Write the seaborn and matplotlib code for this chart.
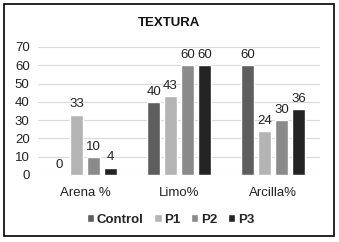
import matplotlib
matplotlib.use("Agg")
import matplotlib.pyplot as plt
import seaborn as sns
import pandas as pd
from matplotlib.patches import Rectangle

categories = ["Arena %", "Limo%", "Arcilla%"]
series = ["Control", "P1", "P2", "P3"]
control = [0, 40, 60]
p1 = [33, 43, 24]
p2 = [10, 60, 30]
p3 = [4, 60, 36]
yticks = [0, 10, 20, 30, 40, 50, 60, 70]

rows = []
for name, vals in zip(series, [control, p1, p2, p3]):
    for c, v in zip(categories, vals):
        rows.append({"cat": c, "serie": name, "val": v})
df = pd.DataFrame(rows)

sns.set_style("white")
plt.rcParams["font.family"] = ["Liberation Sans", "DejaVu Sans"]

colors = ["#5e5e5e", "#b4b4b4", "#8a8a8a", "#232323"]

fig = plt.figure(figsize=(3.39, 2.42), dpi=100)
ax = fig.add_axes([0.112, 0.277, 0.832, 0.529])
sns.barplot(data=df, x="cat", y="val", hue="serie", palette=colors,
            width=0.72, gap=0.23, ax=ax, legend=True)

for cont in ax.containers:
    ax.bar_label(cont, fmt="%d", padding=3, fontsize=9.5, color="#222222")

ax.set_ylim(0, 70)
ax.set_yticks(yticks)
ax.set_xlim(-0.5, 2.5)
ax.yaxis.grid(True, color="#d9d9d9", linewidth=0.8)
ax.set_axisbelow(True)
for s in ax.spines.values():
    s.set_visible(False)
ax.tick_params(axis="both", length=0, labelsize=9.5, colors="#222222", pad=6)
ax.tick_params(axis="x", pad=9)
ax.set_xlabel("")
ax.set_ylabel("")

leg = ax.legend(loc="center", bbox_to_anchor=(0.47, -0.35), ncol=4,
                frameon=False, handlelength=0.55, handleheight=0.55,
                handletextpad=0.2, columnspacing=0.8,
                prop={"weight": "bold", "size": 9.5})

fig.text(0.5, 0.905, "TEXTURA", ha="center", va="center",
         fontsize=9.5, fontweight="bold", color="#111111")

fig.patches.append(Rectangle((4 / 339, 6 / 242), 330 / 339, 232 / 242,
                             transform=fig.transFigure, fill=False,
                             edgecolor="black", linewidth=1.2))

fig.savefig("out.png", dpi=100)
